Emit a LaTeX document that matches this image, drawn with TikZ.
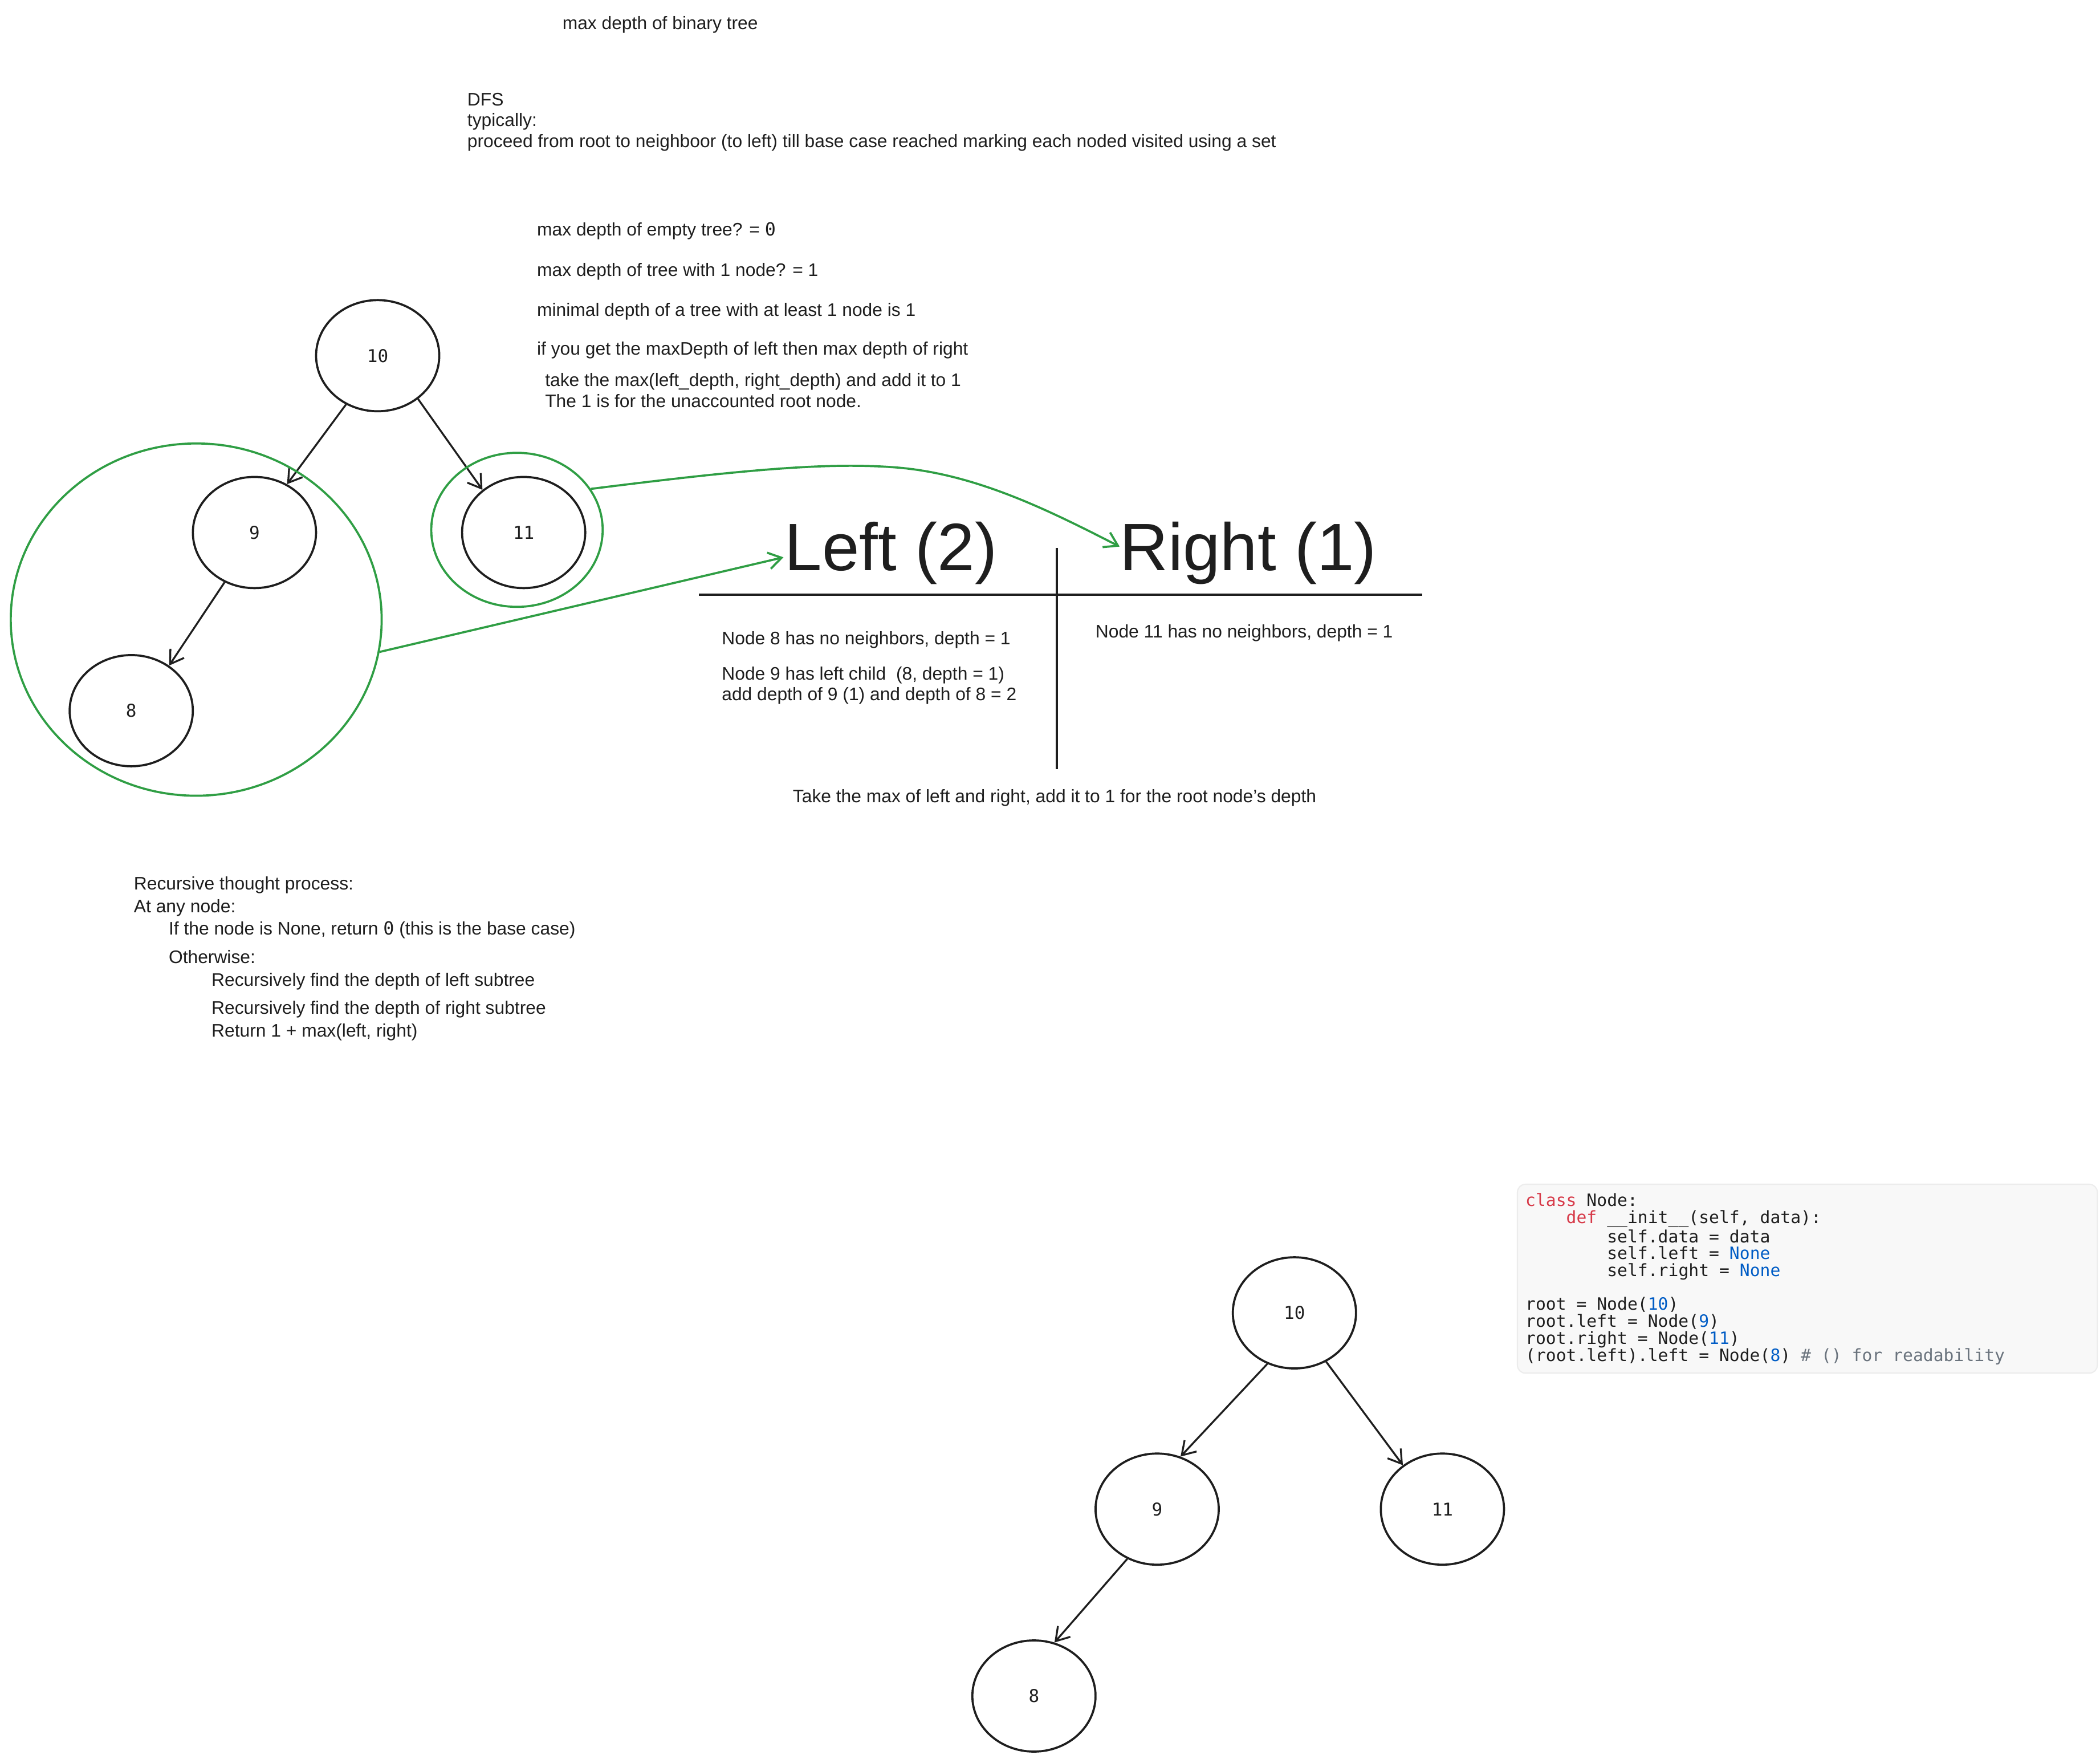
\documentclass[tikz,border=0pt]{standalone}
\usepackage{fontspec}
\setmainfont{Liberation Sans}
\newfontfamily\monof{DejaVu Sans Mono}
\usetikzlibrary{arrows.meta,shapes.geometric}
\definecolor{ink}{HTML}{1E1E1E}
\definecolor{grn}{HTML}{2F9E44}
\definecolor{kwred}{HTML}{D73A49}
\definecolor{numblue}{HTML}{005CC5}
\definecolor{cmt}{HTML}{6A737D}
\definecolor{codebg}{HTML}{F8F8F8}
\definecolor{codeborder}{HTML}{ECECEC}
\newcommand\cind[1]{\hspace*{#1\fontcharwd\font`x}}
\newcommand\zr{{\monof 0}}
\begin{document}
\begin{tikzpicture}[x=0.02cm,y=-0.02cm,
  txt/.style={anchor=base west, inner sep=0, outer sep=0, font=\fontsize{7.7}{8.85}\selectfont, text=ink, align=left},
  big/.style={anchor=base west, inner sep=0, outer sep=0, font=\fontsize{28.5}{30}\selectfont, text=ink},
  tnode/.style={ellipse, draw=ink, line width=0.9pt, minimum width=1.84cm, minimum height=1.66cm, inner sep=0, font=\monof\fontsize{7.5}{9}\selectfont, text=ink},
  grp/.style={ellipse, draw=grn, line width=0.9pt, inner sep=0},
  edge/.style={draw=ink, line width=0.8pt, -{Straight Barb[length=5.5pt,width=7pt]}},
  gedge/.style={draw=grn, line width=0.9pt, -{Straight Barb[length=5.5pt,width=7pt]}},
  code/.style={anchor=base west, inner sep=0, outer sep=0, font=\monof\fontsize{7.2}{7.2}\selectfont, text=ink, align=left}
]
\fill[white] (0,0) rectangle (1568,1316);
\useasboundingbox (0,0) rectangle (1568,1316);

% top texts (multi-line nodes: base = last line)
\node[txt] (title) at (420,22) {max depth of binary tree};
\node[txt] (dfs) at (349,110) {DFS\\typically:\\proceed from root to neighboor (to left) till base case reached marking each noded visited using a set};
\node[txt] (q1) at (401,176) {max depth of empty tree? = \zr};
\node[txt] (q2) at (401,206) {max depth of tree with 1 node? = 1};
\node[txt] (q3) at (401,236) {minimal depth of a tree with at least 1 node is 1};
\node[txt] (q4) at (401,265) {if you get the maxDepth of left then max depth of right};
\node[txt] (q5) at (407,304) {take the max(left\_depth, right\_depth) and add it to 1\\The 1 is for the unaccounted root node.};

% left tree
\node[tnode] (a10) at (282,265.5) {10};
\node[tnode] (a9) at (190,397.5) {9};
\node[tnode] (a11) at (391,397.5) {11};
\node[tnode] (a8) at (98,530.5) {8};
\draw[edge] (a10.237) -- (a9.56);
\draw[edge] (a10.-47) -- (a11.134);
\draw[edge] (a9.-121.6) -- (a8.50.7);

% green groups
\node[grp, minimum width=5.54cm, minimum height=5.26cm] (gl) at (146.5,462.5) {};
\node[grp, minimum width=2.56cm, minimum height=2.30cm] (gr) at (386,395.5) {};
\coordinate (lt) at (585,416);
\coordinate (rt) at (836,408);
\draw[gedge] (gl.-10.4) -- (lt);
\draw[gedge] (gr.29.4) .. controls (560,350) and (620,345) .. (670,349) .. controls (730,354) and (785,382) .. (rt);

% table
\node[big] (left) at (586,426) {Left (2)};
\node[big] (right) at (836,426) {Right (1)};
\draw[ink, line width=1.1pt] (522,444) -- (1062,444);
\draw[ink, line width=0.9pt] (789,409) -- (789,574);
\node[txt] (n8) at (539,481) {Node 8 has no neighbors, depth = 1};
\node[txt] (n9) at (539,523) {Node 9 has left child~~(8, depth = 1)\\add depth of 9 (1) and depth of 8 = 2};
\node[txt] (n11) at (818,476) {Node 11 has no neighbors, depth = 1};
\node[txt] (tk) at (592,599) {Take the max of left and right, add it to 1 for the root node's depth};

% recursive
\node[txt] (r1) at (100,664) {Recursive thought process:};
\node[txt] (r2) at (100,681) {At any node:};
\node[txt] (r3) at (126,698) {If the node is None, return \zr{} (this is the base case)};
\node[txt] (r4) at (126,719) {Otherwise:};
\node[txt] (r5) at (158,736) {Recursively find the depth of left subtree};
\node[txt] (r6) at (158,757) {Recursively find the depth of right subtree};
\node[txt] (r7) at (158,774) {Return 1 + max(left, right)};

% bottom tree
\node[tnode] (b10) at (966.5,980) {10};
\node[tnode] (b9) at (864,1126.5) {9};
\node[tnode] (b11) at (1077,1126.5) {11};
\node[tnode] (b8) at (772,1266) {8};
\draw[edge] (b10.-118.9) -- (b9.66.4);
\draw[edge] (b10.-57) -- (b11.132);
\draw[edge] (b9.-121.9) -- (b8.69);

% code block
\draw[codeborder, fill=codebg, line width=0.5pt, rounded corners=0.12cm] (1133,884) rectangle (1566,1025);
\node[code] (cb) at (1139,1016) {\textcolor{kwred}{class} Node:\\
\cind{4}\textcolor{kwred}{def} \_\_init\_\_(self, data):\\
\cind{8}self.data = data\\
\cind{8}self.left = \textcolor{numblue}{None}\\
\cind{8}self.right = \textcolor{numblue}{None}\\
\mbox{}\\
root = Node(\textcolor{numblue}{10})\\
root.left = Node(\textcolor{numblue}{9})\\
root.right = Node(\textcolor{numblue}{11})\\
(root.left).left = Node(\textcolor{numblue}{8}) \textcolor{cmt}{\# () for readability}};
\end{tikzpicture}
\end{document}
